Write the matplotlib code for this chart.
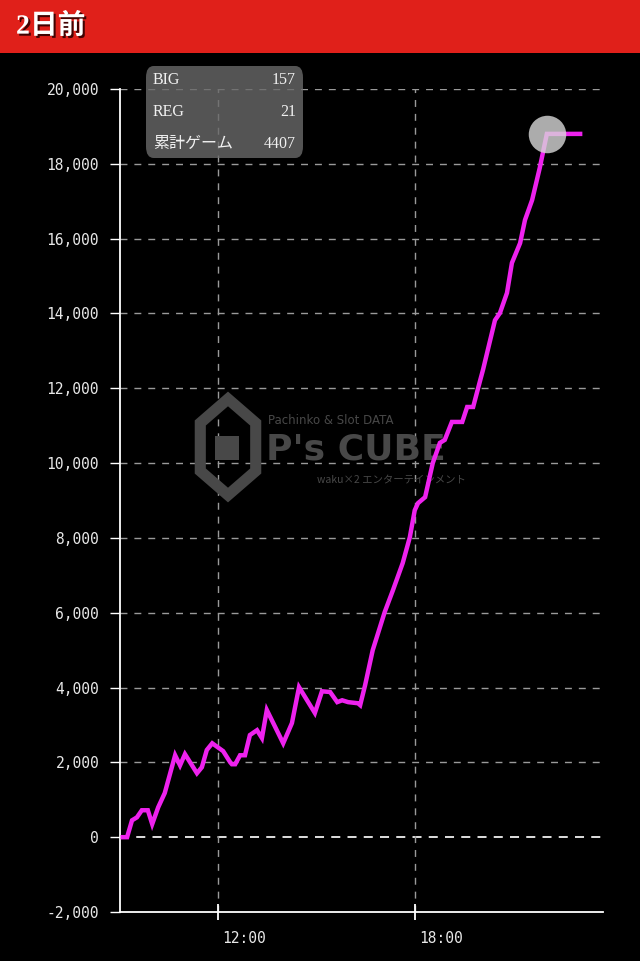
import matplotlib.pyplot as plt
import matplotlib.patheffects as pe
import matplotlib.transforms as mtrans
from matplotlib.patches import Rectangle, FancyBboxPatch, RegularPolygon

# data
times = ["9:05", "9:13", "9:22", "9:31", "9:40", "9:51", "9:59", "10:10", "10:22", "10:41",
         "10:50", "10:59", "11:21", "11:30", "11:39", "11:49", "12:09", "12:22", "12:25", "12:31",
         "12:40", "12:49", "12:58", "13:11", "13:20", "13:29", "13:59", "14:15", "14:28", "14:57",
         "15:10", "15:25", "15:38", "15:47", "15:58", "16:16", "16:20", "16:29", "16:43", "17:05",
         "17:20", "17:38", "17:51", "18:00", "18:06", "18:19", "18:33", "18:46", "18:55", "19:08",
         "19:27", "19:36", "19:47", "20:00", "20:05", "20:27", "20:36", "20:49", "20:58", "21:13",
         "21:22", "21:35", "21:49", "22:02", "23:03"]
values = [0, 0, 450, 530, 720, 720, 350, 800, 1180, 2190,
          1920, 2220, 1710, 1870, 2330, 2510, 2300, 2000, 1950, 1950,
          2190, 2190, 2730, 2860, 2650, 3400, 2510, 3050, 4010, 3320,
          3900, 3880, 3610, 3660, 3610, 3580, 3530, 4060, 5000, 6020,
          6600, 7330, 8020, 8740, 8930, 9090, 10000, 10540, 10620, 11100,
          11100, 11500, 11500, 12220, 12490, 13820, 14010, 14550, 15350, 15880,
          16500, 17030, 17890, 18800, 18800]
yticks = [-2000, 0, 2000, 4000, 6000, 8000, 10000, 12000, 14000, 16000, 18000, 20000]
xticks = [12, 18]
xtick_labels = ["12:00", "18:00"]
info_labels = ["BIG", "REG", "累計ゲーム"]
info_values = ["157", "21", "4407"]
title = "2日前"

hours = [int(t.split(":")[0]) + int(t.split(":")[1]) / 60 for t in times]

W, H = 640, 961
fig = plt.figure(figsize=(W / 100, H / 100), dpi=100, facecolor="black")

def fx(x):
    return x / W

def fy(y):
    return 1 - y / H

# header bar
fig.patches.append(Rectangle((0, fy(53)), 1, 53 / H, transform=fig.transFigure,
                             facecolor="#e0201a", edgecolor="none"))
fig.text(fx(16), fy(27), title, color="white", fontsize=20, fontweight="bold",
         family=["Liberation Serif", "Noto Sans CJK JP"], va="center", ha="left",
         path_effects=[pe.withSimplePatchShadow(offset=(1.5, -1.5), shadow_rgbFace="#300000", alpha=0.9)])

ax = fig.add_axes([fx(120), fy(912), (603 - 120) / W, (912 - 89) / H])
ax.set_facecolor("black")
ax.set_xlim(9, 9 + 483 / 32.75)
ax.set_ylim(-2000, 20000)

for s in ["top", "right"]:
    ax.spines[s].set_visible(False)
for s in ["left", "bottom"]:
    ax.spines[s].set_color("white")
    ax.spines[s].set_linewidth(1.3)

ax.set_yticks(yticks)
ax.set_yticklabels([f"{v:,}" for v in yticks], family="DejaVu Sans Mono", fontsize=10.5, color="#e8e8e8")
ax.tick_params(axis="y", length=7, width=1, color="white", pad=8)
ax.set_xticks(xticks)
ax.set_xticklabels(xtick_labels, family="DejaVu Sans Mono", fontsize=10.5, color="#e8e8e8", ha="left")
ax.tick_params(axis="x", direction="inout", length=12, width=1.3, color="white", pad=8)
off = mtrans.ScaledTranslation(4 / 100, 0, fig.dpi_scale_trans)
for lbl in ax.get_xticklabels():
    lbl.set_transform(lbl.get_transform() + off)

for v in yticks[2:]:
    ax.axhline(v, color="#9a9a9a", lw=1, dashes=(5, 5), zorder=1)
ax.axhline(0, color="#f0f0f0", lw=1.3, dashes=(5, 4), zorder=1)
for x in xticks:
    ax.axvline(x, color="#9a9a9a", lw=1, dashes=(5, 5), zorder=1)

# watermark
wm = "#484848"
ax.add_patch(RegularPolygon((fx(228), fy(447)), 6, radius=0.05, orientation=0,
                            transform=fig.transFigure, facecolor="none", edgecolor=wm, lw=8, zorder=2))
ax.add_patch(Rectangle((fx(215), fy(460)), 24 / W, 24 / H, transform=fig.transFigure,
                       facecolor=wm, edgecolor="none", zorder=2))
ax.text(fx(268), fy(421), "Pachinko & Slot DATA", transform=fig.transFigure, color=wm,
        fontsize=8.5, va="center", ha="left", zorder=2)
ax.text(fx(266), fy(449), "P's CUBE", transform=fig.transFigure, color=wm,
        fontsize=26, fontweight="bold", va="center", ha="left", zorder=2)
ax.text(fx(317), fy(480), "waku×2 エンターテインメント", transform=fig.transFigure, color=wm,
        fontsize=7.5, va="center", ha="left", family=["Noto Sans CJK JP", "DejaVu Sans"], zorder=2)

ax.plot(hours, values, color="#ee22ee", lw=3.2, solid_joinstyle="miter", zorder=3)
ax.plot(hours[-2], values[-2], "o", ms=27, color="#d8d8d8", alpha=0.8, mec="none", zorder=4)

# info box
box = FancyBboxPatch((fx(146), fy(158)), 157 / W, 92 / H, boxstyle="round,pad=0,rounding_size=0.012",
                     transform=fig.transFigure, facecolor="#6a6a6a", edgecolor="none",
                     alpha=0.8, zorder=5, clip_on=False)
ax.add_patch(box)
for i, (lab, val) in enumerate(zip(info_labels, info_values)):
    y = fy(80 + i * 32)
    ax.text(fx(153), y, lab, transform=fig.transFigure, color="#f0f0f0", fontsize=11.5,
            family=["Liberation Serif", "Noto Sans CJK JP"], va="center", ha="left", zorder=6)
    ax.text(fx(296), y, val, transform=fig.transFigure, color="#f0f0f0", fontsize=11.5,
            family=["Liberation Serif", "Noto Sans CJK JP"], va="center", ha="right", zorder=6)

fig.savefig("out.png", dpi=100, facecolor="black")
